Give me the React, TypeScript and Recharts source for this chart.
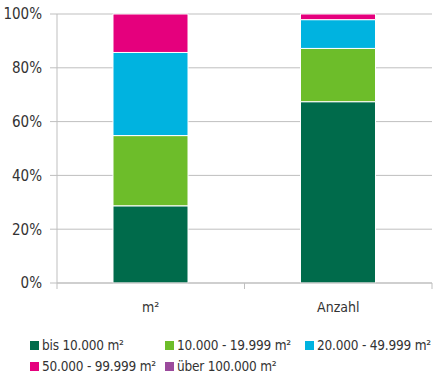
import React from "react";
import { BarChart, Bar, XAxis, YAxis, CartesianGrid } from "recharts";

const categories = ["m²", "Anzahl"];
const bis10000 = [28.7, 67.4];
const von10000 = [26.1, 19.8];
const von20000 = [30.9, 10.7];
const von50000 = [14.3, 2.1];
const ueber100000 = [0, 0];
const yTicks = [0, 20, 40, 60, 80, 100];

const series = [
  { key: "s1", name: "bis 10.000 m²", values: bis10000, color: "#006B4B" },
  { key: "s2", name: "10.000 - 19.999 m²", values: von10000, color: "#6DBD2A" },
  { key: "s3", name: "20.000 - 49.999 m²", values: von20000, color: "#00B3E0" },
  { key: "s4", name: "50.000 - 99.999 m²", values: von50000, color: "#E5007D" },
  { key: "s5", name: "über 100.000 m²", values: ueber100000, color: "#9B4A9C" },
];

const data = categories.map((c, i) => {
  const row: Record<string, string | number> = { name: c };
  series.forEach((s) => (row[s.key] = s.values[i]));
  return row;
});

const FONT = "'DejaVu Sans Condensed', 'DejaVu Sans', sans-serif";
const TEXT = "#333";
const GRID = "#BFBFBF";
const W = 436;
const LEFT = 57;
const RIGHT = 4;
const band = (W - LEFT - RIGHT) / categories.length;

function XTick(props: any) {
  const { x, y, payload, index } = props;
  return (
    <g>
      {index === 0 && <line x1={x - band / 2} y1={y} x2={x - band / 2} y2={y + 6} stroke={GRID} />}
      <line x1={x + band / 2} y1={y} x2={x + band / 2} y2={y + 6} stroke={GRID} />
      <text x={x} y={y + 29} textAnchor="middle" fontSize={14} fill={TEXT} style={{ fontFamily: FONT, fontStretch: "condensed" }}>
        {payload.value}
      </text>
    </g>
  );
}

const legendCols = [30, 165, 305];

export default function App() {
  return (
    <div style={{ position: "absolute", left: 0, top: 0, width: W, height: 382, background: "#fff" }}>
      <BarChart width={W} height={320} data={data} margin={{ top: 14, right: RIGHT, left: 0, bottom: 0 }} barSize={75}>
        <CartesianGrid vertical={false} stroke={GRID} />
        <XAxis
          dataKey="name"
          stroke={GRID}
          tickLine={false}
          tickSize={0}
          tickMargin={0}
          height={37}
          tick={<XTick />}
        />
        <YAxis
          domain={[0, 100]}
          ticks={yTicks}
          width={LEFT}
          stroke={GRID}
          tickSize={7}
          tickMargin={8}
          tickFormatter={(v) => `${v}%`}
          tick={{ fill: TEXT, fontSize: 15, style: { fontFamily: FONT, fontStretch: "condensed" } }}
        />
        {series.map((s) => (
          <Bar key={s.key} dataKey={s.key} name={s.name} stackId="a" fill={s.color} stroke="#fff" strokeWidth={1} isAnimationActive={false} />
        ))}
      </BarChart>
      {series.map((s, i) => {
        const left = legendCols[i % 3];
        const top = i < 3 ? 336 : 357;
        return (
          <div
            key={s.key}
            style={{ position: "absolute", left, top, display: "flex", alignItems: "center", fontFamily: FONT, fontStretch: "condensed", fontSize: 13.5, letterSpacing: -0.2, color: TEXT, whiteSpace: "nowrap", lineHeight: "18px" }}
          >
            <span style={{ display: "inline-block", width: 9, height: 9, background: s.color, marginRight: 3 }} />
            {s.name}
          </div>
        );
      })}
    </div>
  );
}
